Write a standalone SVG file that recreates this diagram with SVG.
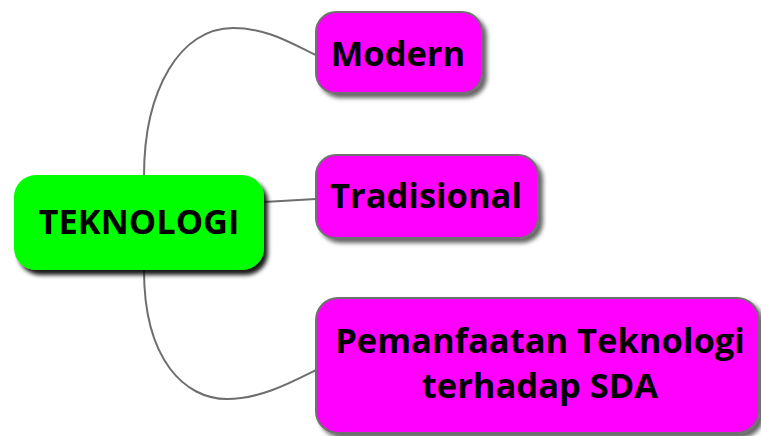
<svg xmlns="http://www.w3.org/2000/svg" width="761" height="436" viewBox="0 0 761 436">
<defs>
<filter id="sh" x="-10%" y="-10%" width="130%" height="140%">
<feDropShadow dx="4" dy="4" stdDeviation="2" flood-color="#000" flood-opacity="0.6"/>
</filter>
<filter id="shc" x="-10%" y="-10%" width="130%" height="140%">
<feDropShadow dx="4" dy="5" stdDeviation="2" flood-color="#000" flood-opacity="0.9"/>
</filter>
<style>
.t{font-family:"Open Sans","Noto Sans","DejaVu Sans",sans-serif;font-weight:bold;font-size:34.5px;fill:#000;text-anchor:middle}
.sub{fill:#ff00ff;stroke:#707070;stroke-width:2}
.conn{fill:none;stroke:#6e6e6e;stroke-width:2}
</style>
</defs>
<g id="connectors">
<path class="conn" d="M144,176 C144,90 180,28 233,28 C268,28 292,44 316,55"/>
<path class="conn" d="M264,202 L316,199"/>
<path class="conn" d="M144,270 C144,360 185,399 227,399 C260,399 290,383 316,370"/>
</g>
<g id="center">
<rect x="14" y="175" width="250" height="95" rx="22" fill="#00ff00" filter="url(#shc)"/>
<text class="t" x="139" y="234">TEKNOLOGI</text>
</g>
<g id="modern">
<rect class="sub" x="316" y="12" width="166" height="81" rx="20" filter="url(#sh)"/>
<text class="t" x="398" y="66">Modern</text>
</g>
<g id="tradisional">
<rect class="sub" x="316" y="155" width="222" height="83" rx="20" filter="url(#sh)"/>
<text class="t" x="426" y="208">Tradisional</text>
</g>
<g id="pemanfaatan">
<rect class="sub" x="316" y="298" width="443" height="135" rx="22" filter="url(#sh)"/>
<text class="t" x="540" y="353">Pemanfaatan Teknologi</text>
<text class="t" x="540" y="398">terhadap SDA</text>
</g>
</svg>
